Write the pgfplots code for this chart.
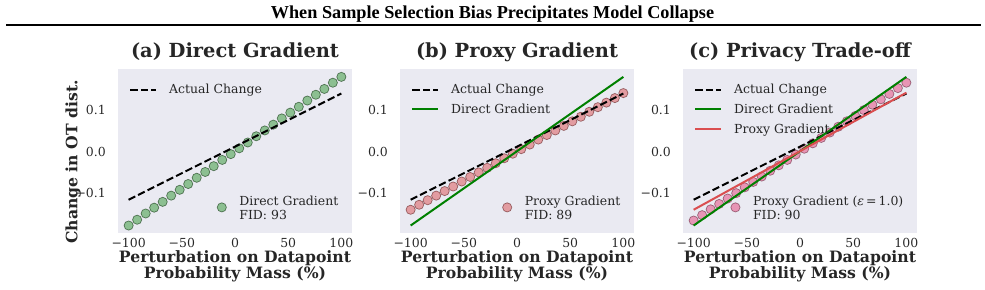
\documentclass[border=0pt]{standalone}
\usepackage{fontspec}
\setmainfont{DejaVu Serif}
\newfontfamily\headfont{Liberation Serif}
\usepackage{pgfplots}
\usepackage{pgfplotstable}
\pgfplotsset{compat=1.18}
\definecolor{bgc}{RGB}{234,234,242}
\definecolor{txt}{RGB}{38,38,38}
\definecolor{lgreen}{RGB}{0,128,0}
\definecolor{tred}{RGB}{214,39,40}
\definecolor{cpink}{RGB}{230,66,122}
\definecolor{lred}{RGB}{218,78,80}

\pgfplotstableread{
x     ga      pb      pc
-100  -0.178  -0.140  -0.166
-92   -0.164  -0.128  -0.153
-84   -0.149  -0.117  -0.139
-76   -0.135  -0.106  -0.126
-68   -0.121  -0.095  -0.113
-60   -0.106  -0.084  -0.100
-52   -0.092  -0.072  -0.086
-44   -0.078  -0.061  -0.073
-36   -0.063  -0.050  -0.060
-28   -0.049  -0.039  -0.046
-20   -0.035  -0.028  -0.033
-12   -0.020  -0.016  -0.020
-4    -0.006  -0.005  -0.007
4      0.008   0.006   0.007
12     0.022   0.017   0.020
20     0.037   0.029   0.033
28     0.051   0.040   0.046
36     0.065   0.051   0.060
44     0.080   0.062   0.073
52     0.094   0.073   0.086
60     0.108   0.084   0.100
68     0.123   0.096   0.113
76     0.137   0.107   0.126
84     0.151   0.118   0.139
92     0.166   0.129   0.153
100    0.180   0.141   0.166
}\scat

\pgfplotstableread{
x     act     dg      pg
-100  -0.116  -0.178  -0.140
100    0.140   0.180   0.142
}\lines

\pgfplotsset{
 base/.style={width=234bp,height=164bp,scale only axis,
   xmin=-110,xmax=110,ymin=-0.196,ymax=0.199,anchor=north west},
 main/.style={base,
   axis background/.style={fill=bgc,draw=none},
   axis line style={draw=none}, major tick length=0pt, tick style={draw=none},
   xtick={-100,-50,0,50,100},
   xticklabels={\textnormal{−100},\textnormal{−50},\textnormal{0},\textnormal{50},\textnormal{100}},
   ytick={-0.1,0,0.1}, yticklabels={\textnormal{−0.1},\textnormal{0.0},\textnormal{0.1}},
   ticklabel style={font=\fontsize{12.5}{14}\selectfont, text=txt},
   xticklabel style={anchor=north, inner sep=0pt, yshift=-5bp},
   yticklabel style={anchor=east, inner sep=0pt, xshift=-12bp},
   xlabel={Perturbation on Datapoint\\Probability Mass (\%)},
   xlabel style={at={(axis description cs:0.5,0)}, anchor=north, yshift=-17bp,
     inner sep=0pt, align=center, text=txt, font=\fontsize{15.7}{16.5}\selectfont\bfseries},
   title style={at={(axis description cs:0.5,1)}, anchor=base, yshift=6bp,
     inner sep=0pt, text=txt, font=\fontsize{19.5}{21}\selectfont\bfseries},
   legend style={at={(axis description cs:0.95,0.1)}, anchor=south east,
     draw=none, fill=none, inner sep=0pt, outer sep=0pt, column sep=11bp,
     cells={anchor=west}, text=txt, font=\fontsize{12.5}{14}\selectfont},
   legend image code/.code={\draw[mark repeat=2,mark phase=2,##1] plot coordinates {(0bp,-2bp) (5bp,-2bp) (10bp,-2bp)};},
 },
 over/.style={base, hide axis,
   legend style={at={(axis description cs:0.048,0.921)}, anchor=north west,
     draw=none, fill=none, inner sep=0pt, outer sep=0pt, row sep=4.6bp, column sep=10bp,
     cells={anchor=west}, text=txt, font=\fontsize{12.5}{14}\selectfont},
   legend image code/.code={\draw[##1] (0bp,0bp) -- (26bp,0bp);},
 },
 actst/.style={black, line width=2bp, dash pattern=on 7.4bp off 3.2bp},
 dgst/.style={lgreen, line width=2bp},
 pgst/.style={lred, line width=2bp},
}

\begin{document}
\begin{tikzpicture}
\useasboundingbox (0bp,0bp) rectangle (985bp,290bp);
\node[anchor=base, text=black, font=\headfont\fontsize{18.3}{20}\selectfont\bfseries] at (492.5bp,271bp) {When Sample Selection Bias Precipitates Model Collapse};
\draw[line width=2bp] (6bp,265bp) -- (981bp,265bp);

% (a)
\begin{axis}[main, at={(118bp,221bp)}, title={(a) Direct Gradient},
  ylabel={Change in OT dist.},
  ylabel style={at={(axis description cs:-0.192,0.433)}, anchor=center, inner sep=0pt,
    text=txt, font=\fontsize{15.7}{16.5}\selectfont\bfseries}]
\addplot[only marks, mark=*, mark size=4.6bp, mark options={fill=lgreen, fill opacity=0.4, draw=black!70!lgreen, draw opacity=0.55, line width=0.7bp}] table[x=x,y=ga] {\scat};
\addlegendentry{\begin{tabular}{@{}l@{}}Direct Gradient\\FID: 93\end{tabular}}
\end{axis}
\begin{axis}[over, at={(118bp,221bp)}]
\addplot[actst] table[x=x,y=act] {\lines};
\addlegendentry{Actual Change\strut}
\end{axis}

% (b)
\begin{axis}[main, at={(400bp,221bp)}, title={(b) Proxy Gradient}]
\addplot[only marks, mark=*, mark size=4.6bp, mark options={fill=tred, fill opacity=0.4, draw=black!60!tred, draw opacity=0.55, line width=0.7bp}] table[x=x,y=pb] {\scat};
\addlegendentry{\begin{tabular}{@{}l@{}}Proxy Gradient\\FID: 89\end{tabular}}
\end{axis}
\begin{axis}[over, at={(400bp,221bp)}]
\addplot[actst] table[x=x,y=act] {\lines};
\addlegendentry{Actual Change\strut}
\addplot[dgst] table[x=x,y=dg] {\lines};
\addlegendentry{Direct Gradient\strut}
\end{axis}

% (c)
\begin{axis}[main, at={(683bp,221bp)}, title={(c) Privacy Trade-off}]
\addplot[only marks, mark=*, mark size=4.6bp, mark options={fill=cpink, fill opacity=0.5, draw=black!60!cpink, draw opacity=0.55, line width=0.7bp}] table[x=x,y=pc] {\scat};
\addlegendentry{\begin{tabular}{@{}l@{}}Proxy Gradient (\textit{ε}\,=\,1.0)\\FID: 90\end{tabular}}
\end{axis}
\begin{axis}[over, at={(683bp,221bp)}]
\addplot[actst] table[x=x,y=act] {\lines};
\addlegendentry{Actual Change\strut}
\addplot[dgst] table[x=x,y=dg] {\lines};
\addlegendentry{Direct Gradient\strut}
\addplot[pgst] table[x=x,y=pg] {\lines};
\addlegendentry{Proxy Gradient\strut}
\end{axis}
\end{tikzpicture}
\end{document}
